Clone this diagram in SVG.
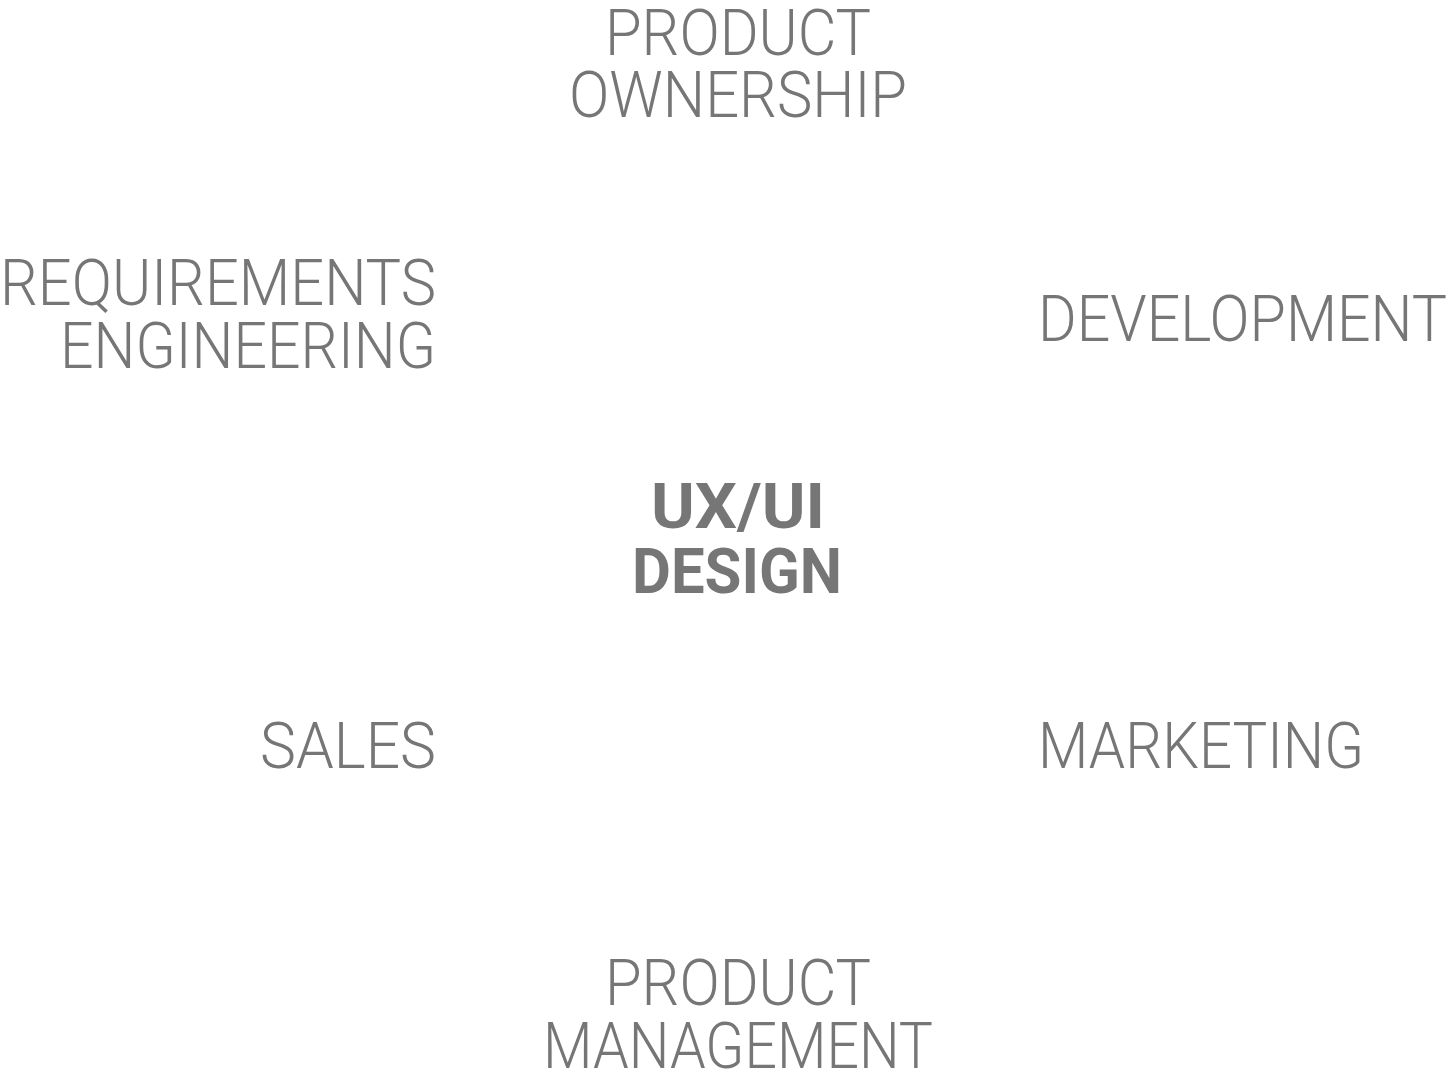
<svg xmlns="http://www.w3.org/2000/svg" width="1446" height="1080" viewBox="0 0 1446 1080">
<style>
text{font-family:Roboto,"Liberation Sans",sans-serif;font-size:65px;font-weight:300;fill:#767676}
.c{text-anchor:middle}.r{text-anchor:end}.b{font-weight:700;font-size:63px}
</style>
<rect width="1446" height="1080" fill="#fff"/>
<g id="connectors"/>
<g id="product-ownership"><text class="c" x="738" y="55" textLength="266" lengthAdjust="spacingAndGlyphs">PRODUCT</text><text class="c" x="738" y="117" textLength="338" lengthAdjust="spacingAndGlyphs">OWNERSHIP</text></g>
<g id="requirements-engineering"><text class="r" x="436" y="305" textLength="436" lengthAdjust="spacingAndGlyphs">REQUIREMENTS</text><text class="r" x="436" y="368" textLength="376" lengthAdjust="spacingAndGlyphs">ENGINEERING</text></g>
<g id="development"><text x="1038" y="341" textLength="409" lengthAdjust="spacingAndGlyphs">DEVELOPMENT</text></g>
<g id="uxui-design"><text class="c b" x="738" y="528" textLength="174" lengthAdjust="spacingAndGlyphs">UX/UI</text><text class="c b" x="737" y="593" textLength="210" lengthAdjust="spacingAndGlyphs">DESIGN</text></g>
<g id="sales"><text class="r" x="436" y="768" textLength="176" lengthAdjust="spacingAndGlyphs">SALES</text></g>
<g id="marketing"><text x="1038" y="768" textLength="326" lengthAdjust="spacingAndGlyphs">MARKETING</text></g>
<g id="product-management"><text class="c" x="738" y="1005" textLength="266" lengthAdjust="spacingAndGlyphs">PRODUCT</text><text class="c" x="738" y="1068" textLength="390" lengthAdjust="spacingAndGlyphs">MANAGEMENT</text></g>
</svg>
